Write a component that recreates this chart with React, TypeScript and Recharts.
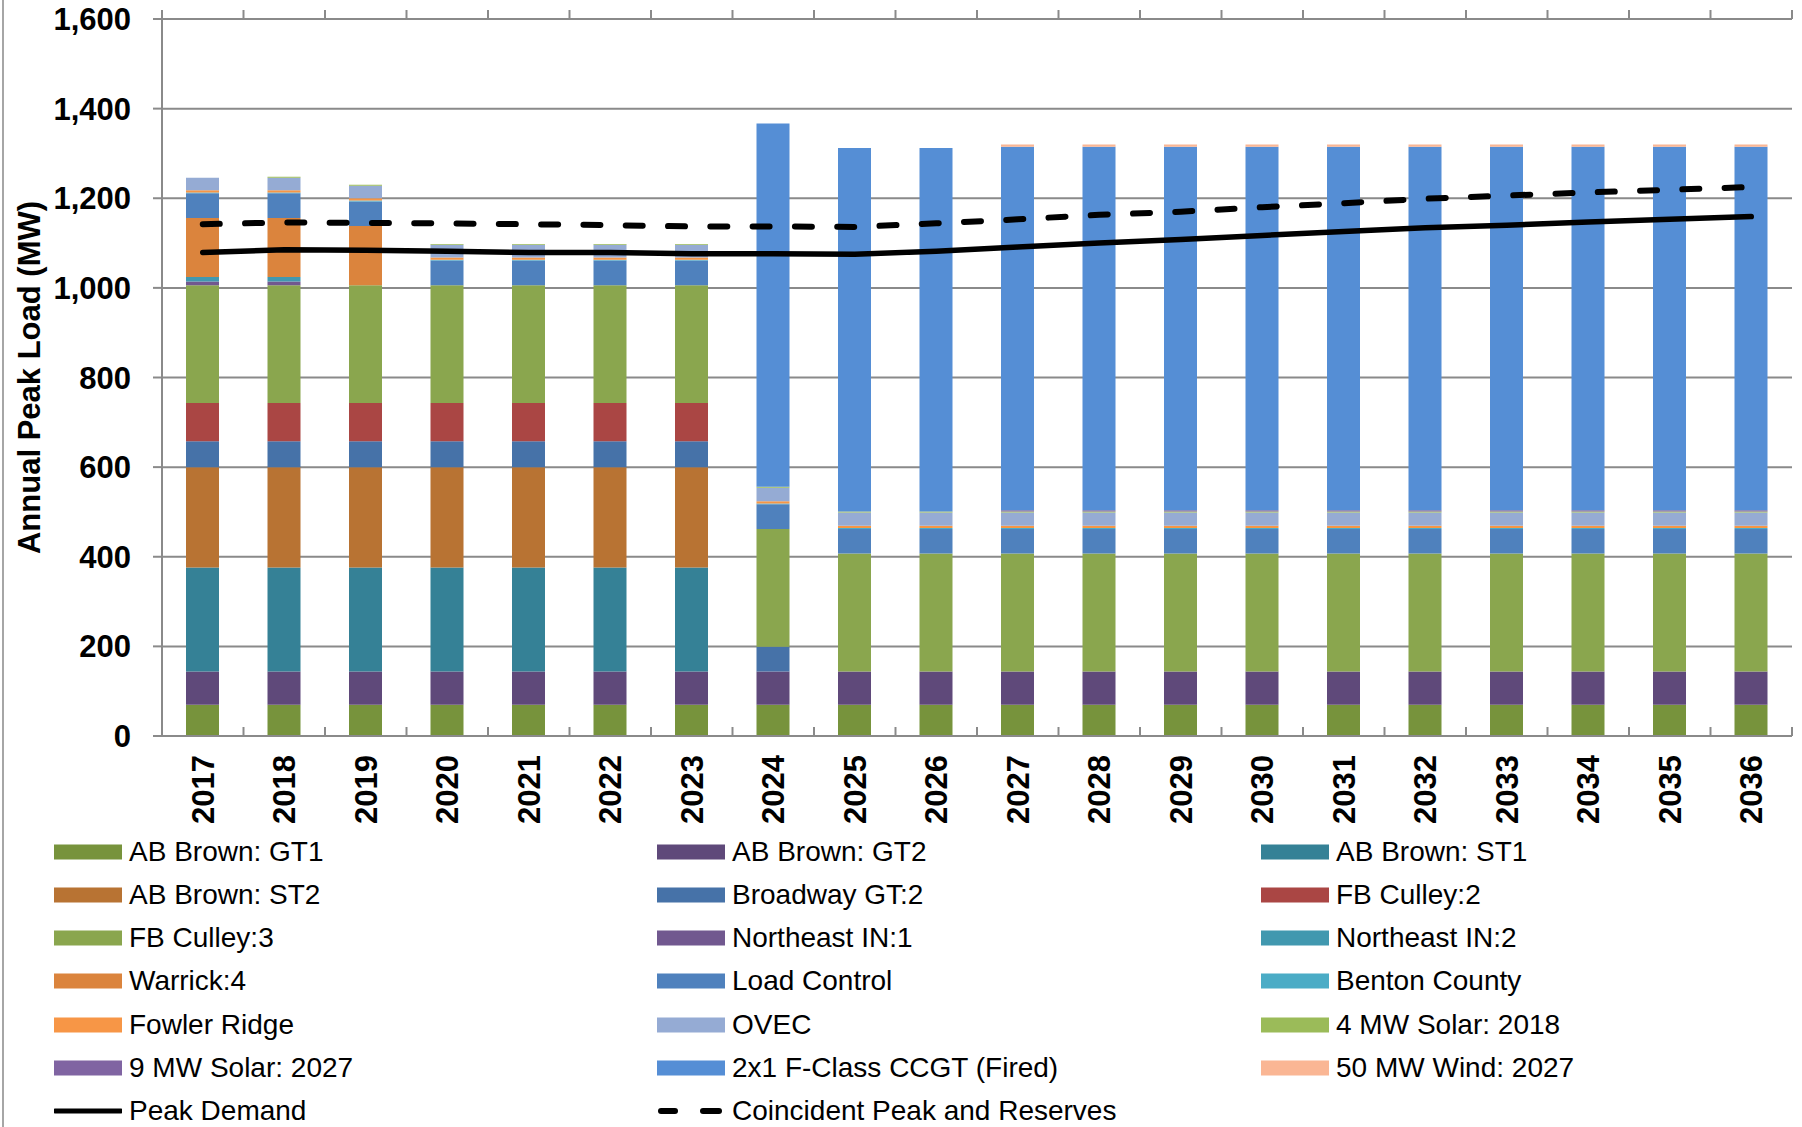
import React from 'react';
import { ComposedChart, Bar, Line, XAxis, YAxis, CartesianGrid } from 'recharts';

const years = ['2017','2018','2019','2020','2021','2022','2023','2024','2025','2026','2027','2028','2029','2030','2031','2032','2033','2034','2035','2036'];

const abBrownGT1 = [70,70,70,70,70,70,70,70,70,70,70,70,70,70,70,70,70,70,70,70];
const abBrownGT2 = [74,74,74,74,74,74,74,74,74,74,74,74,74,74,74,74,74,74,74,74];
const abBrownST1 = [232,232,232,232,232,232,232,0,0,0,0,0,0,0,0,0,0,0,0,0];
const abBrownST2 = [224,224,224,224,224,224,224,0,0,0,0,0,0,0,0,0,0,0,0,0];
const broadwayGT2 = [58,58,58,58,58,58,58,55,0,0,0,0,0,0,0,0,0,0,0,0];
const fbCulley2 = [85,85,85,85,85,85,85,0,0,0,0,0,0,0,0,0,0,0,0,0];
const fbCulley3 = [263,263,263,263,263,263,263,263,263,263,263,263,263,263,263,263,263,263,263,263];
const northeastIN1 = [8,8,0,0,0,0,0,0,0,0,0,0,0,0,0,0,0,0,0,0];
const northeastIN2 = [10,10,0,0,0,0,0,0,0,0,0,0,0,0,0,0,0,0,0,0];
const warrick4 = [132,132,132,0,0,0,0,0,0,0,0,0,0,0,0,0,0,0,0,0];
const loadControl = [55,55,55,55,55,55,55,55,55,55,55,55,55,55,55,55,55,55,55,55];
const bentonCounty = [2,2,2,2,2,2,2,2,2,2,2,2,2,2,2,2,2,2,2,2];
const fowlerRidge = [5,5,5,5,5,5,5,5,5,5,5,5,5,5,5,5,5,5,5,5];
const ovec = [28,28,28,28,28,28,28,30,30,30,30,30,30,30,30,30,30,30,30,30];
const solar4MW = [0,2,2,2,2,2,2,2,2,2,2,2,2,2,2,2,2,2,2,2];
const solar9MW = [0,0,0,0,0,0,0,0,0,0,3,3,3,3,3,3,3,3,3,3];
const ccgt2x1 = [0,0,0,0,0,0,0,811,811,811,811,811,811,811,811,811,811,811,811,811];
const wind50MW = [0,0,0,0,0,0,0,0,0,0,5,5,5,5,5,5,5,5,5,5];

const peakDemand = [1079,1085,1084,1082,1079,1079,1076,1076,1075,1082,1091,1100,1108,1117,1126,1134,1140,1147,1153,1159];
const coincidentPeak = [1142,1146,1145,1144,1142,1140,1137,1137,1136,1144,1153,1163,1170,1180,1189,1199,1206,1213,1219,1225];

const yTicks = [0,200,400,600,800,1000,1200,1400,1600];

const barSeries = [
  { key: 'gt1', name: 'AB Brown: GT1', color: '#77933c', values: abBrownGT1 },
  { key: 'gt2', name: 'AB Brown: GT2', color: '#5f497a', values: abBrownGT2 },
  { key: 'st1', name: 'AB Brown: ST1', color: '#358196', values: abBrownST1 },
  { key: 'st2', name: 'AB Brown: ST2', color: '#b87333', values: abBrownST2 },
  { key: 'bw', name: 'Broadway GT:2', color: '#4672a8', values: broadwayGT2 },
  { key: 'fb2', name: 'FB Culley:2', color: '#aa4644', values: fbCulley2 },
  { key: 'fb3', name: 'FB Culley:3', color: '#8aa64e', values: fbCulley3 },
  { key: 'ne1', name: 'Northeast IN:1', color: '#71588f', values: northeastIN1 },
  { key: 'ne2', name: 'Northeast IN:2', color: '#4198af', values: northeastIN2 },
  { key: 'wa4', name: 'Warrick:4', color: '#db843d', values: warrick4 },
  { key: 'lc', name: 'Load Control', color: '#4f81bd', values: loadControl },
  { key: 'bc', name: 'Benton County', color: '#4bacc6', values: bentonCounty },
  { key: 'fr', name: 'Fowler Ridge', color: '#f79646', values: fowlerRidge },
  { key: 'ovec', name: 'OVEC', color: '#95abd4', values: ovec },
  { key: 's4', name: '4 MW Solar: 2018', color: '#9bbb59', values: solar4MW },
  { key: 's9', name: '9 MW Solar: 2027', color: '#8064a2', values: solar9MW },
  { key: 'cc', name: '2x1 F-Class CCGT (Fired)', color: '#558ed5', values: ccgt2x1 },
  { key: 'w50', name: '50 MW Wind: 2027', color: '#fab694', values: wind50MW },
];

const data = years.map((year, i) => {
  const row: Record<string, any> = { year, peak: peakDemand[i], coinc: coincidentPeak[i] };
  barSeries.forEach((s) => { row[s.key] = s.values[i]; });
  return row;
});

const FONT = '"Liberation Sans", Arial, Helvetica, sans-serif';
const GRID = '#8a8a8a';
const CHART_W = 1802;
const CHART_H = 840;
const MARGIN = { top: 19, right: 10, left: 0, bottom: 0 };
const Y_AXIS_W = 162;
const BAND = (CHART_W - MARGIN.right - MARGIN.left - Y_AXIS_W) / years.length;

function YearTick(props: any) {
  const { x, y, payload, index } = props;
  const ty = y + 19;
  const top = MARGIN.top;
  const edges = [x - BAND / 2];
  if (index === years.length - 1) edges.push(x + BAND / 2);
  return (
    <g>
      {edges.map((ex, k) => (
        <g key={k}>
          <line x1={ex} x2={ex} y1={y} y2={y - 9} stroke={GRID} strokeWidth={2} />
          <line x1={ex} x2={ex} y1={top} y2={top - 9} stroke={GRID} strokeWidth={2} />
        </g>
      ))}
      <text
        x={x}
        y={ty}
        transform={`rotate(-90, ${x}, ${ty})`}
        textAnchor="end"
        dy="0.36em"
        fontFamily={FONT}
        fontWeight="bold"
        fontSize={31}
        fill="#000"
      >
        {payload.value}
      </text>
    </g>
  );
}

function YLabel(props: any) {
  const vb = props.viewBox || { x: 0, y: MARGIN.top, width: Y_AXIS_W, height: 700 };
  const cx = vb.x + 29;
  const cy = vb.y + vb.height / 2;
  return (
    <text
      x={cx}
      y={cy}
      transform={`rotate(-90, ${cx}, ${cy})`}
      textAnchor="middle"
      dy="0.36em"
      fontFamily={FONT}
      fontWeight="bold"
      fontSize={31}
      fill="#000"
    >
      Annual Peak Load (MW)
    </text>
  );
}

const legendCols = [54, 657, 1261];
const legendRowTop = 851.5;
const legendRowStep = 43.3;

function LegendBlock() {
  const items: { name: string; kind: 'bar' | 'solid' | 'dash'; color: string }[] = barSeries.map((s) => ({
    name: s.name,
    kind: 'bar' as const,
    color: s.color,
  }));
  items.push({ name: 'Peak Demand', kind: 'solid', color: '#000' });
  items.push({ name: 'Coincident Peak and Reserves', kind: 'dash', color: '#000' });
  return (
    <div style={{ position: 'absolute', left: 0, top: 0, width: CHART_W, height: 1127, pointerEvents: 'none' }}>
      {items.map((it, i) => {
        const col = i % 3;
        const row = Math.floor(i / 3);
        const cy = legendRowTop + row * legendRowStep;
        const left = legendCols[col];
        return (
          <div key={it.name} style={{ position: 'absolute', left, top: cy - 20, height: 40, display: 'flex', alignItems: 'center' }}>
            <svg width={68} height={20} style={{ display: 'block' }}>
              {it.kind === 'bar' && <rect x={0} y={2.5} width={68} height={15} fill={it.color} />}
              {it.kind === 'solid' && <line x1={1} x2={67} y1={10} y2={10} stroke="#000" strokeWidth={5} strokeLinecap="round" />}
              {it.kind === 'dash' && (
                <g>
                  <line x1={4} x2={18} y1={10} y2={10} stroke="#000" strokeWidth={6} strokeLinecap="round" />
                  <line x1={46} x2={62} y1={10} y2={10} stroke="#000" strokeWidth={6} strokeLinecap="round" />
                </g>
              )}
            </svg>
            <span style={{ marginLeft: 7, fontFamily: FONT, fontSize: 28, color: '#000', whiteSpace: 'nowrap', lineHeight: '40px' }}>{it.name}</span>
          </div>
        );
      })}
    </div>
  );
}

export default function App() {
  return (
    <div style={{ position: 'absolute', left: 0, top: 0, width: CHART_W, height: 1127, background: '#fff', overflow: 'hidden' }}>
      <div style={{ position: 'absolute', left: 2, top: 0, width: 2, height: 1127, background: '#a6a6a6' }} />
      <ComposedChart width={CHART_W} height={CHART_H} data={data} margin={MARGIN} barCategoryGap={0}>
        <CartesianGrid vertical={false} stroke={GRID} strokeWidth={2} yAxisId="left" />
        <XAxis
          dataKey="year"
          type="category"
          height={104}
          tickSize={0}
          tickMargin={0}
          tickLine={false}
          axisLine={{ stroke: GRID, strokeWidth: 2 }}
          interval={0}
          tick={(p: any) => <YearTick {...p} />}
        />
        <YAxis
          yAxisId="left"
          width={Y_AXIS_W}
          domain={[0, 1600]}
          ticks={yTicks}
          interval={0}
          tickSize={9}
          tickMargin={22}
          tickLine={{ stroke: GRID, strokeWidth: 2 }}
          axisLine={{ stroke: GRID, strokeWidth: 2 }}
          tickFormatter={(v: number) => v.toLocaleString('en-US')}
          tick={{ fontFamily: FONT, fontWeight: 'bold', fontSize: 31, fill: '#000' }}
          label={<YLabel />}
        />
        {barSeries.map((s) => (
          <Bar
            key={s.key}
            dataKey={s.key}
            name={s.name}
            stackId="a"
            yAxisId="left"
            fill={s.color}
            barSize={33}
            isAnimationActive={false}
          />
        ))}
        <Line
          type="linear"
          dataKey="peak"
          name="Peak Demand"
          yAxisId="left"
          stroke="#000"
          strokeWidth={5.5}
          dot={false}
          activeDot={false}
          strokeLinecap="round"
          isAnimationActive={false}
        />
        <Line
          type="linear"
          dataKey="coinc"
          name="Coincident Peak and Reserves"
          yAxisId="left"
          stroke="#000"
          strokeWidth={6}
          strokeDasharray="17 25.3"
          strokeLinecap="round"
          dot={false}
          activeDot={false}
          isAnimationActive={false}
        />
      </ComposedChart>
      <LegendBlock />
    </div>
  );
}
